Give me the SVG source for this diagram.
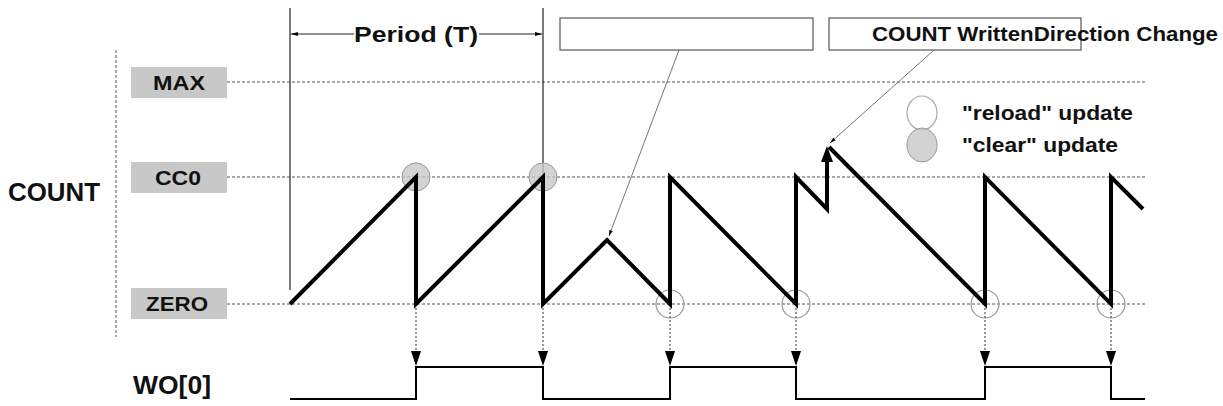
<svg xmlns="http://www.w3.org/2000/svg" width="1223" height="406" viewBox="0 0 1223 406">
<defs>
<style>
text{font-family:"Liberation Sans",Arial,sans-serif;font-weight:bold;fill:#111}
.lbl{fill:#c8c8c8}
.dash{stroke:#555;stroke-width:1;stroke-dasharray:3,2;fill:none}
.thin{stroke:#222;stroke-width:1.2;fill:none}
.thick{stroke:#000;stroke-width:4;fill:none;stroke-linejoin:miter}
.gray{fill:#c8c8c8;fill-opacity:0.8;stroke:#999;stroke-width:1}
.open{fill:none;stroke:#999;stroke-width:1.2}
.lead{stroke:#777;stroke-width:1;fill:none}
</style>
<marker id="ahs" viewBox="0 0 10 10" refX="10" refY="5" markerWidth="6" markerHeight="10" orient="auto"><path d="M0,2 L10,5 L0,8 z" fill="#000"/></marker>
</defs>
<g id="labels">
<text x="8" y="201" font-size="25" textLength="92" lengthAdjust="spacingAndGlyphs">COUNT</text>
<line x1="116" y1="50" x2="116" y2="337" class="dash"/>
<g id="max"><rect x="131" y="67" width="96" height="31" class="lbl"/><text x="153" y="90" font-size="20" textLength="52" lengthAdjust="spacingAndGlyphs">MAX</text></g>
<g id="cc0"><rect x="131" y="162" width="96" height="31" class="lbl"/><text x="155" y="185" font-size="20" textLength="46" lengthAdjust="spacingAndGlyphs">CC0</text></g>
<g id="zero"><rect x="131" y="288" width="96" height="31" class="lbl"/><text x="146" y="311" font-size="20" textLength="62" lengthAdjust="spacingAndGlyphs">ZERO</text></g>
<text x="133" y="394" font-size="26" textLength="78" lengthAdjust="spacingAndGlyphs">WO[0]</text>
</g>
<g id="grid">
<line x1="227" y1="82" x2="1145" y2="82" class="dash"/>
<line x1="227" y1="177" x2="1145" y2="177" class="dash"/>
<line x1="227" y1="304" x2="1145" y2="304" class="dash"/>
</g>
<g id="period">
<line x1="290" y1="8" x2="290" y2="290" class="thin"/>
<line x1="543" y1="8" x2="543" y2="304" class="thin"/>
<line x1="354" y1="34" x2="291" y2="34" class="thin" marker-end="url(#ahs)"/>
<line x1="479" y1="34" x2="542" y2="34" class="thin" marker-end="url(#ahs)"/>
<text x="354" y="42" font-size="22" textLength="124" lengthAdjust="spacingAndGlyphs">Period (T)</text>
</g>
<g id="boxes">
<rect x="560" y="18" width="253" height="32" fill="#fff" stroke="#555" stroke-width="1.2"/>
<rect x="829" y="18" width="252" height="32" fill="#fff" stroke="#555" stroke-width="1.2"/>
<text x="872" y="41" font-size="20" textLength="346" lengthAdjust="spacingAndGlyphs">COUNT WrittenDirection Change</text>
</g>
<g id="legend">
<ellipse cx="922" cy="113" rx="15" ry="17" fill="#fff" stroke="#aaa" stroke-width="1.2"/>
<ellipse cx="922" cy="145" rx="15" ry="17" class="gray"/>
<text x="962" y="120" font-size="20" textLength="171" lengthAdjust="spacingAndGlyphs">"reload" update</text>
<text x="962" y="152" font-size="20" textLength="156" lengthAdjust="spacingAndGlyphs">"clear" update</text>
</g>
<g id="markers">
<circle cx="416" cy="177" r="14" class="gray"/>
<circle cx="543" cy="177" r="14" class="gray"/>
<circle cx="670" cy="304" r="14" class="open"/>
<circle cx="796" cy="304" r="14" class="open"/>
<circle cx="985" cy="304" r="14" class="open"/>
<circle cx="1111" cy="304" r="14" class="open"/>
</g>
<g id="connectors">
<line x1="679" y1="50" x2="609" y2="236" class="lead" marker-end="url(#ahs)"/>
<line x1="934" y1="50" x2="830" y2="143" class="lead" marker-end="url(#ahs)"/>
<g stroke="#333" stroke-width="1" stroke-dasharray="2,2">
<line x1="416" y1="304" x2="416" y2="360"/><line x1="543" y1="304" x2="543" y2="360"/>
<line x1="670" y1="304" x2="670" y2="360"/><line x1="796" y1="304" x2="796" y2="360"/>
<line x1="985" y1="304" x2="985" y2="360"/><line x1="1111" y1="304" x2="1111" y2="360"/>
</g>
<g fill="#000">
<path d="M411,351 L421,351 L416,366 z"/><path d="M538,351 L548,351 L543,366 z"/>
<path d="M665,351 L675,351 L670,366 z"/><path d="M791,351 L801,351 L796,366 z"/>
<path d="M980,351 L990,351 L985,366 z"/><path d="M1106,351 L1116,351 L1111,366 z"/>
</g>
</g>
<g id="count-wave">
<path d="M290,304 L416,177 L416,304 L543,177 L543,304 L607,240 L670,304 L670,177 L796,304 L796,177 L827,209 L827,160" class="thick"/>
<path d="M821,162 L827,146 L833,162 z" fill="#000"/>
<path d="M829,147 L985,304 L985,177 L1111,304 L1111,177 L1143,209" class="thick"/>
</g>
<g id="wo-wave">
<path d="M290,399 L416,399 L416,367 L543,367 L543,399 L670,399 L670,367 L796,367 L796,399 L985,399 L985,367 L1111,367 L1111,399 L1145,399" fill="none" stroke="#000" stroke-width="2"/>
</g>
</svg>
